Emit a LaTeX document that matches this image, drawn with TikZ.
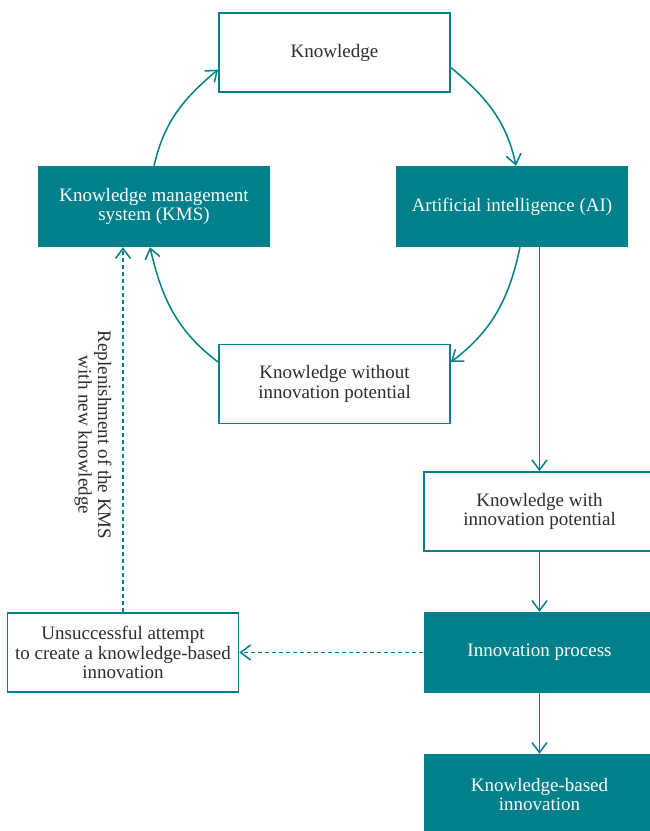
\documentclass[tikz,border=0pt]{standalone}
\usepackage{fontspec}
\setmainfont{Liberation Serif}
\usetikzlibrary{arrows.meta,positioning}
\definecolor{kmteal}{RGB}{0,128,138}
\definecolor{kmtext}{RGB}{45,45,45}
\begin{document}
\begin{tikzpicture}[x=1pt, y=-1pt,
  every node/.style={font=\fontsize{19}{19.5}\selectfont, align=center},
  whitebox/.style={draw=kmteal, line width=1.8pt, fill=white, text=kmtext, minimum width=231pt, minimum height=79pt, inner sep=2pt},
  tealbox/.style={fill=kmteal, text=white, minimum width=232pt, minimum height=81pt, inner sep=2pt},
  link/.style={draw=kmteal, line width=1.5pt, -{Straight Barb[length=10pt,width=15pt,line width=1.5pt]}},
  dashlink/.style={link, dash pattern=on 4pt off 3pt}]
\useasboundingbox (0,0) rectangle (649,831);
\node[whitebox] (know) at (334.5,52.5) {Knowledge};
\node[tealbox] (kms) at (154,206.5) {Knowledge management\\ system (KMS)};
\node[tealbox] (ai) at (512,206.5) {Artificial intelligence (AI)};
\node[whitebox] (without) at (334.5,384) {Knowledge without\\ innovation potential};
\node[whitebox] (with) at (539.5,511.5) {Knowledge with\\ innovation potential};
\node[tealbox] (innov) at (539.5,652.5) {Innovation process};
\node[tealbox] (kbi) at (539.5,794.5) {Knowledge-based\\ innovation};
\node[whitebox] (fail) at (123,652.5) {Unsuccessful attempt\\ to create a knowledge-based\\ innovation};
\node[text=kmtext, rotate=-90] (refill) at (93,435) {Replenishment of the KMS\\ with new knowledge};
% cycle
\draw[link] (kms.north) to[out=77, in=220] ([yshift=-17pt]know.west);
\draw[link] ([yshift=-15pt]know.east) to[out=-40, in=102] ([xshift=4pt]ai.north);
\draw[link] ([xshift=8pt]ai.south) to[out=-102, in=37] ([yshift=22pt]without.east);
\draw[link] ([yshift=22pt]without.west) to[out=143, in=-77] ([xshift=-4pt]kms.south);
% main line
\draw[link] (with.north |- ai.south) -- (with.north);
\draw[link] (with.south) -- (innov.north -| with.south);
\draw[link] (innov.south -| with.south) -- (kbi.north -| with.south);
% feedback
\draw[dashlink] (innov.west) -- (fail.east);
\draw[dashlink] (fail.north) -- (fail.north |- kms.south);
\end{tikzpicture}
\end{document}
